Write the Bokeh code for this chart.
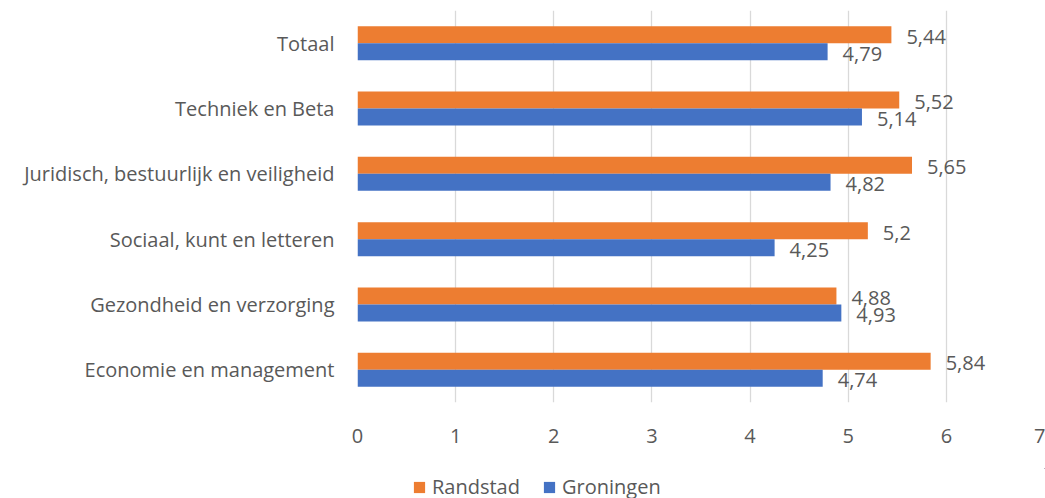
from bokeh.plotting import figure
from bokeh.layouts import column
from bokeh.models import FactorRange, Legend, LegendItem, ColumnDataSource, FixedTicker, Range1d
from bokeh.transform import dodge
from bokeh.core.properties import value
from bokeh.embed import file_html
from bokeh.resources import INLINE

categories = ["Economie en management", "Gezondheid en verzorging",
              "Sociaal, kunt en letteren", "Juridisch, bestuurlijk en veiligheid",
              "Techniek en Beta", "Totaal"]
randstad = [5.84, 4.88, 5.2, 5.65, 5.52, 5.44]
groningen = [4.74, 4.93, 4.25, 4.82, 5.14, 4.79]
x_ticks = [0, 1, 2, 3, 4, 5, 6, 7]
series_names = ["Randstad", "Groningen"]

ORANGE = "#ED7D31"
BLUE = "#4472C4"
TEXT = "#595959"
FONT = "Open Sans"
FS = "20px"

def fmt(v):
    s = ("%.2f" % v).rstrip("0").rstrip(".")
    return s.replace(".", ",")

src = ColumnDataSource(dict(
    cat=categories,
    r=randstad,
    g=groningen,
    rl=[fmt(v) for v in randstad],
    gl=[fmt(v) for v in groningen],
))

p = figure(width=1045, height=468, y_range=FactorRange(*categories),
           x_range=Range1d(0, 7), output_backend="svg", toolbar_location=None,
           min_border_left=357, min_border_right=1, min_border_top=10,
           min_border_bottom=66)
p.outline_line_color = None
p.background_fill_color = "white"

r1 = p.hbar(y=dodge("cat", 0.13, range=p.y_range), left=0, right="r", height=0.26,
            source=src, fill_color=ORANGE, line_color=None)
r2 = p.hbar(y=dodge("cat", -0.13, range=p.y_range), left=0, right="g", height=0.26,
            source=src, fill_color=BLUE, line_color=None)

p.text(x="r", y=dodge("cat", 0.13, range=p.y_range), text="rl", source=src,
       x_offset=15, y_offset=2, text_align="left", text_baseline="middle",
       text_font=value(FONT), text_font_size=FS, text_color=TEXT)
p.text(x="g", y=dodge("cat", -0.13, range=p.y_range), text="gl", source=src,
       x_offset=15, y_offset=2, text_align="left", text_baseline="middle",
       text_font=value(FONT), text_font_size=FS, text_color=TEXT)

p.ygrid.grid_line_color = None
p.xgrid.grid_line_color = "#D9D9D9"
p.xgrid.grid_line_width = 1.3
p.xaxis.ticker = FixedTicker(ticks=x_ticks)

for ax in (p.xaxis, p.yaxis):
    ax.axis_line_color = None
    ax.major_tick_line_color = None
    ax.minor_tick_line_color = None
    ax.major_label_text_font = FONT
    ax.major_label_text_font_size = FS
    ax.major_label_text_color = TEXT
p.xaxis.major_label_standoff = 20
p.yaxis.major_label_standoff = 17

# legend strip (its glyphs lie outside the strip's visible range)
p2 = figure(width=1045, height=30, x_range=Range1d(0, 1), y_range=Range1d(0, 1),
            output_backend="svg", toolbar_location=None,
            x_axis_type=None, y_axis_type=None,
            min_border_left=0, min_border_right=0, min_border_top=0,
            min_border_bottom=0)
p2.outline_line_color = None
p2.grid.visible = False
l1 = p2.hbar(y="r", left="r", right="r", height=0.5, source=src,
             fill_color=ORANGE, line_color=None)
l2 = p2.hbar(y="g", left="g", right="g", height=0.5, source=src,
             fill_color=BLUE, line_color=None)

legend = Legend(items=[LegendItem(label=series_names[0], renderers=[l1]),
                       LegendItem(label=series_names[1], renderers=[l2])],
                orientation="horizontal", location=(55, -2),
                glyph_width=14, glyph_height=14, label_standoff=6, spacing=22,
                padding=0, margin=0, border_line_color=None,
                background_fill_alpha=0,
                label_text_font=FONT, label_text_font_size=FS,
                label_text_color=TEXT)
p2.add_layout(legend, "center")

layout = column(p, p2, spacing=0)
open("out.html", "w").write(file_html(layout, INLINE))
